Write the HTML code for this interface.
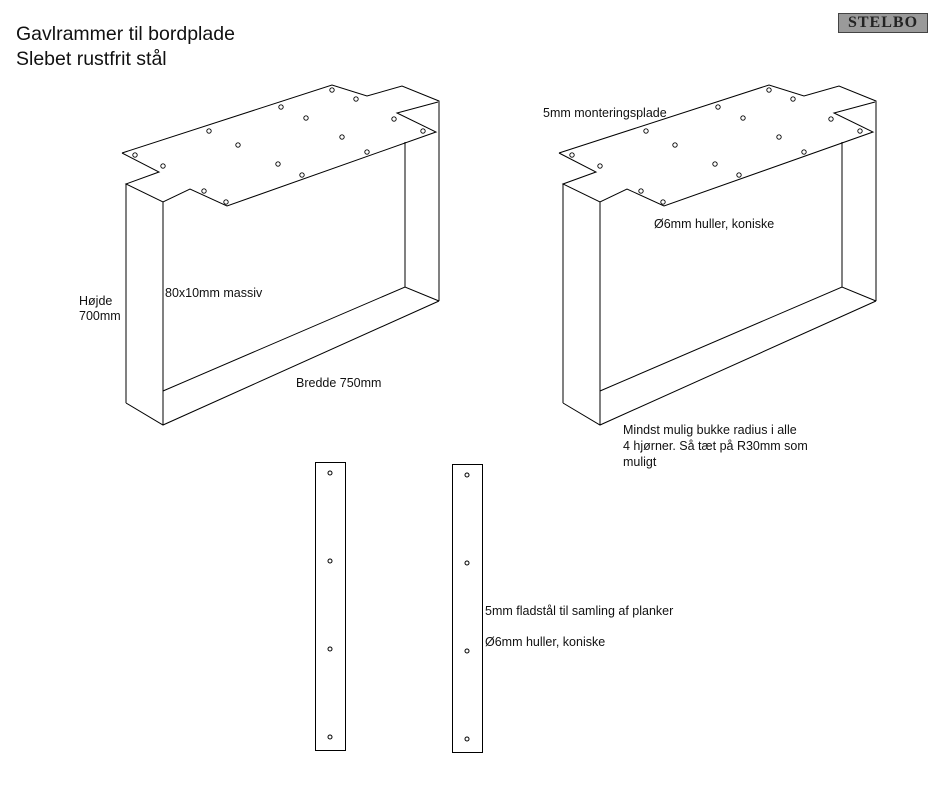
<!DOCTYPE html>
<html><head><meta charset="utf-8"><style>
html,body{margin:0;padding:0;background:#fff;}
body{width:945px;height:791px;position:relative;overflow:hidden;font-family:"Liberation Sans",sans-serif;}
.t{position:absolute;font-size:12.5px;color:#111;white-space:nowrap;line-height:15px;}
.h{position:absolute;font-size:19.5px;color:#111;white-space:nowrap;}
</style></head><body>
<svg width="945" height="791" style="position:absolute;left:0;top:0" fill="none" stroke="#000" stroke-width="1">
<defs>
<g id="frame">
<polyline points="122,153 332,85 367,96 402,86 439,101 439,301"/>
<polyline points="122,153 159,172 126,184 163,202 190,189 227,206 436,132 397,113 438,102"/>
<line x1="126" y1="184" x2="126" y2="403"/>
<line x1="163" y1="202" x2="163" y2="425"/>
<polyline points="126,403 163,425 439,301"/>
<polyline points="163,391 405,287 439,301"/>
<line x1="405" y1="142" x2="405" y2="287"/>
<g stroke-width="0.9">
<circle cx="332" cy="90" r="2.2"/><circle cx="356" cy="99" r="2.2"/><circle cx="281" cy="107" r="2.2"/>
<circle cx="306" cy="118" r="2.2"/><circle cx="209" cy="131" r="2.2"/><circle cx="394" cy="119" r="2.2"/>
<circle cx="423" cy="131" r="2.2"/><circle cx="238" cy="145" r="2.2"/><circle cx="342" cy="137" r="2.2"/>
<circle cx="135" cy="155" r="2.2"/><circle cx="163" cy="166" r="2.2"/><circle cx="367" cy="152" r="2.2"/>
<circle cx="278" cy="164" r="2.2"/><circle cx="302" cy="175" r="2.2"/><circle cx="204" cy="191" r="2.2"/>
<circle cx="226" cy="202" r="2.2"/>
</g>
</g>
</defs>
<use href="#frame"/>
<use href="#frame" transform="translate(437,0)"/>
<rect x="315.5" y="462.5" width="30" height="288"/>
<circle cx="330" cy="473" r="2"/><circle cx="330" cy="561" r="2"/><circle cx="330" cy="649" r="2"/><circle cx="330" cy="737" r="2"/>
<rect x="452.5" y="464.5" width="30" height="288"/>
<circle cx="467" cy="475" r="2"/><circle cx="467" cy="563" r="2"/><circle cx="467" cy="651" r="2"/><circle cx="467" cy="739" r="2"/>
</svg>
<div class="h" style="left:16px;top:23px">Gavlrammer til bordplade</div>
<div class="h" style="left:16px;top:48px">Slebet rustfrit stål</div>
<div style="position:absolute;left:838px;top:13px;width:90px;height:20px;background:#9a9a9a;border:1px solid #444;box-sizing:border-box;color:#222;font:bold 16px 'Liberation Serif',serif;text-align:center;line-height:18px;letter-spacing:1px">STELBO</div>
<div class="t" style="left:79px;top:294px">Højde<br>700mm</div>
<div class="t" style="left:165px;top:286px">80x10mm massiv</div>
<div class="t" style="left:296px;top:376px">Bredde 750mm</div>
<div class="t" style="left:543px;top:106px">5mm monteringsplade</div>
<div class="t" style="left:654px;top:217px">Ø6mm huller, koniske</div>
<div class="t" style="left:623px;top:422px;line-height:16px">Mindst mulig bukke radius i alle<br>4 hjørner. Så tæt på R30mm som<br>muligt</div>
<div class="t" style="left:485px;top:604px">5mm fladstål til samling af planker</div>
<div class="t" style="left:485px;top:635px">Ø6mm huller, koniske</div>
</body></html>
